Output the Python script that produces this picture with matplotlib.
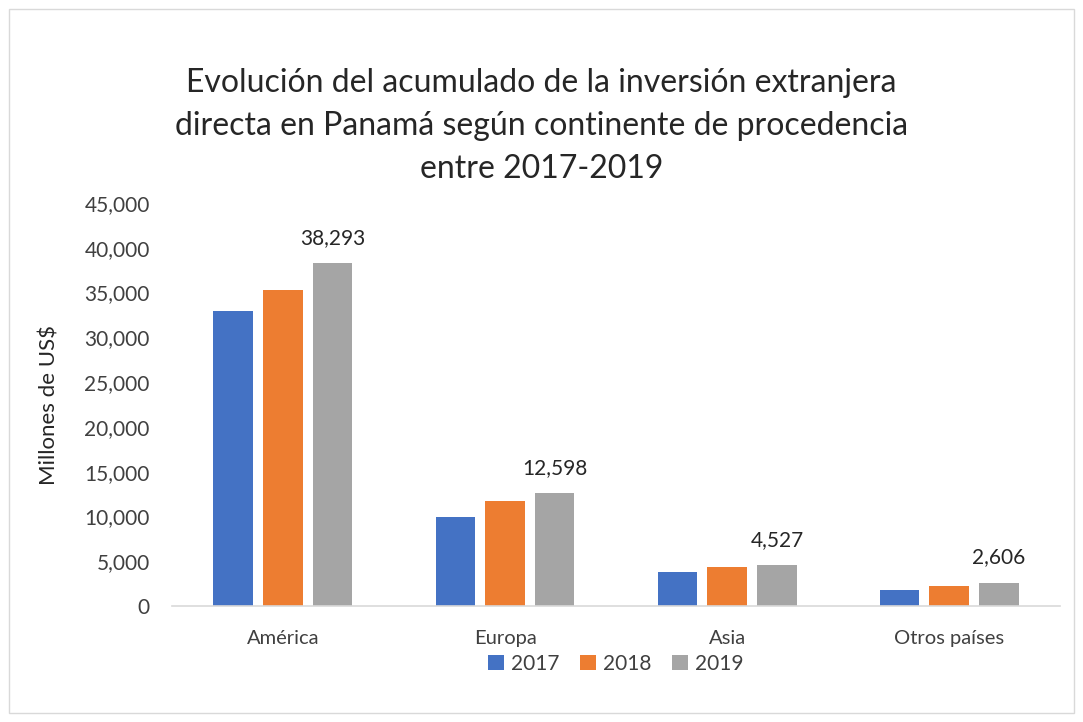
import matplotlib.pyplot as plt
import numpy as np
from matplotlib.patches import Rectangle

plt.rcParams['font.family'] = ['Lato', 'DejaVu Sans']

categories = ['América', 'Europa', 'Asia', 'Otros países']
years = ['2017', '2018', '2019']
v2017 = [32980, 9950, 3850, 1800]
v2018 = [35270, 11750, 4400, 2200]
v2019 = [38293, 12598, 4527, 2606]
colors = ['#4472C4', '#ED7D31', '#A5A5A5']

fig = plt.figure(figsize=(10.83, 7.22), dpi=100)
ax = fig.add_axes([0.1588, 0.1607, 0.82, 0.5581])

x = np.arange(len(categories))
step = 0.225
width = 0.176
series = [v2017, v2018, v2019]
for i, vals in enumerate(series):
    bars = ax.bar(x + (i - 1) * step, vals, width, color=colors[i], label=years[i])
    if i == 2:
        for b, v in zip(bars, vals):
            ax.annotate(f'{v:,}', (b.get_x() + b.get_width() / 2, v),
                        xytext=(0, 11), textcoords='offset points',
                        ha='center', va='bottom', fontsize=15, color='#262626')

ax.set_xlim(-0.5, 3.5)
ax.set_ylim(0, 45000)
ax.set_yticks(range(0, 45001, 5000))
ax.set_yticklabels([f'{t:,}' for t in range(0, 45001, 5000)])
ax.set_xticks(x)
ax.set_xticklabels(categories)
ax.tick_params(axis='x', length=0, labelsize=14.5, colors='#404040', pad=17)
ax.tick_params(axis='y', length=0, labelsize=15, colors='#404040', pad=16)
for s in ['top', 'right', 'left']:
    ax.spines[s].set_visible(False)
ax.spines['bottom'].set_color('#D9D9D9')
ax.spines['bottom'].set_linewidth(1.2)

ax.set_ylabel('Millones de US$', fontsize=16, color='#262626', labelpad=18)

fig.text(0.5, 0.745, 'Evolución del acumulado de la inversión extranjera\n'
         'directa en Panamá según continente de procedencia\nentre 2017-2019',
         ha='center', va='bottom', fontsize=23, color='#262626', linespacing=1.55)

ax.legend(loc='upper center', bbox_to_anchor=(0.5, -0.072), ncol=3, frameon=False,
          fontsize=15, handlelength=0.75, handleheight=0.75, columnspacing=1.0,
          handletextpad=0.35, labelcolor='#404040')

fig.patches.append(Rectangle((0.008, 0.012), 0.984, 0.976, transform=fig.transFigure,
                             fill=False, edgecolor='#D9D9D9', linewidth=1))

fig.savefig('out.png', dpi=100)
